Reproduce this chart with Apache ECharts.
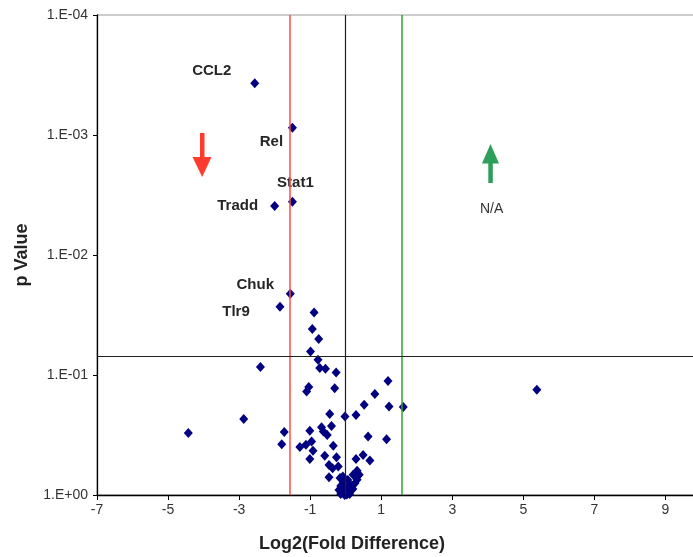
<!DOCTYPE html>
<html>
<head>
<meta charset="utf-8">
<title>Volcano plot</title>
<script src="https://cdn.jsdelivr.net/npm/echarts@6/dist/echarts.min.js"></script>
<style>
  html, body { margin: 0; padding: 0; background: #fff; }
  #chart { width: 693px; height: 557px; }
</style>
</head>
<body>
<div id="chart"></div>
<script>
// Named genes (log2 fold difference, p value)
const labeledGenes = ['CCL2', 'Rel', 'Stat1', 'Tradd', 'Chuk', 'Tlr9'];
const labeledLog2FC = [-2.56, -1.50, -1.50, -2.00, -1.56, -1.85];
const labeledPValue = [3.7e-4, 8.7e-4, 3.6e-3, 3.9e-3, 0.021, 0.027];

// Remaining genes
const otherLog2FC = [
  -0.89, -0.94, -0.76, -0.99, -0.78, -0.73, -0.57, -0.27, -1.04, -1.10,
  -0.31, 1.19, 0.82, 0.52, 1.22, 1.62, -0.45, -0.02, 0.29, -2.40,
  -2.87, -4.43, -1.73, -1.80, -1.01, -0.68, -0.63, -0.52, -0.40, 0.63,
  1.15, -1.29, -1.12, -0.96, -0.92, -0.35, -1.01, -0.59, -0.26, 0.29,
  0.49, 0.68, -0.47, -0.37, -0.21, -0.47, 0.32, 0.38, 0.21, 0.32,
  5.38,
  -0.16, -0.06, 0.06, -0.14, 0.00, 0.14, -0.19, -0.08, 0.09, 0.20,
  -0.03, -0.14, 0.11, 0.03, 0.26, -0.08
];
const otherPValue = [
  0.0301, 0.0414, 0.0502, 0.0637, 0.0746, 0.0875, 0.0887, 0.0953, 0.126, 0.137,
  0.129, 0.112, 0.144, 0.177, 0.183, 0.185, 0.211, 0.222, 0.215, 0.0859,
  0.233, 0.305, 0.299, 0.377, 0.292, 0.272, 0.296, 0.316, 0.266, 0.326,
  0.343, 0.399, 0.382, 0.359, 0.427, 0.389, 0.502, 0.472, 0.484, 0.502,
  0.464, 0.516, 0.561, 0.598, 0.579, 0.711, 0.627, 0.679, 0.679, 0.748,
  0.133,
  0.72, 0.78, 0.75, 0.84, 0.87, 0.83, 0.91, 0.94, 0.93, 0.89,
  1.0, 0.98, 0.98, 0.99, 0.80, 0.70
];

// Thresholds
const foldThresholdDown = -1.585;
const foldThresholdUp = 1.585;
const foldZero = 0;
const pThreshold = 0.07;

// Axis tick labels (log axis, one per decade)
const yTickLabels = ['1.E-04', '1.E-03', '1.E-02', '1.E-01', '1.E+00'];
const yTickValues = [1e-4, 1e-3, 1e-2, 1e-1, 1];

// Label placement for the named genes, relative to each point
const labelOffsets = {
  CCL2: [-43, -12],
  Rel: [-21, 14],
  Stat1: [3, -19],
  Tradd: [-37, 0],
  Chuk: [-35, -9],
  Tlr9: [-44, 5]
};

const FONT = '"Liberation Sans", Arial, sans-serif';
const pointColor = '#000080';

const labeledData = labeledGenes.map((name, i) => ({
  name: name,
  value: [labeledLog2FC[i], labeledPValue[i]],
  label: {
    show: true,
    formatter: name,
    position: 'inside',
    offset: labelOffsets[name],
    color: '#262626',
    fontFamily: FONT,
    fontWeight: 'bold',
    fontSize: 15
  }
}));
const otherData = otherLog2FC.map((x, i) => [x, otherPValue[i]]);

const chart = echarts.init(document.getElementById('chart'), null, { renderer: 'canvas' });

chart.setOption({
  animation: false,
  backgroundColor: '#fff',
  grid: {
    left: 97, top: 15, width: 604, height: 480,
    outerBoundsMode: 'none',
    containLabel: false,
    show: true, borderColor: '#9a9a9a', borderWidth: 1, backgroundColor: 'transparent'
  },
  xAxis: {
    type: 'value',
    min: -7, max: 10, interval: 2,
    axisLine: { show: true, onZero: false, lineStyle: { color: '#000', width: 1.3 } },
    axisTick: { show: true, length: 5, lineStyle: { color: '#000' } },
    axisLabel: {
      showMaxLabel: false,
      margin: 8,
      color: '#333', fontFamily: FONT, fontSize: 14
    },
    splitLine: { show: false }
  },
  yAxis: {
    type: 'log',
    logBase: 10,
    inverse: true,
    min: 1e-4, max: 1,
    axisLine: { show: true, onZero: false, lineStyle: { color: '#000', width: 1.3 } },
    axisTick: { show: true, length: 4, lineStyle: { color: '#000' } },
    axisLabel: {
      margin: 9,
      color: '#333', fontFamily: FONT, fontSize: 14,
      formatter: function (v) {
        let best = 0;
        for (let i = 0; i < yTickValues.length; i++) {
          if (Math.abs(Math.log10(v) - Math.log10(yTickValues[i])) <
              Math.abs(Math.log10(v) - Math.log10(yTickValues[best]))) best = i;
        }
        return yTickLabels[best];
      }
    },
    splitLine: { show: false }
  },
  series: [
    {
      type: 'scatter',
      name: 'genes',
      symbol: 'diamond',
      symbolSize: [9, 10],
      itemStyle: { color: pointColor, opacity: 1 },
      data: otherData,
      z: 3,
      markLine: {
        silent: true,
        symbol: 'none',
        label: { show: false },
        data: [
          { xAxis: foldThresholdDown, lineStyle: { color: '#ff4a4a', width: 1.5, type: 'solid', opacity: 1 } },
          { xAxis: foldZero, lineStyle: { color: '#222', width: 1.2, type: 'solid', opacity: 1 } },
          { xAxis: foldThresholdUp, lineStyle: { color: '#32a032', width: 1.5, type: 'solid', opacity: 1 } },
          { yAxis: pThreshold, lineStyle: { color: '#222', width: 1.2, type: 'solid', opacity: 1 } }
        ]
      }
    },
    {
      type: 'scatter',
      name: 'named genes',
      symbol: 'diamond',
      symbolSize: [9, 10],
      itemStyle: { color: pointColor, opacity: 1 },
      data: labeledData,
      z: 4
    }
  ],
  graphic: [
    // down arrow (red)
    { type: 'rect', shape: { x: 200, y: 133, width: 4.5, height: 27 }, style: { fill: '#ff3b2f' } },
    { type: 'polygon', shape: { points: [[192.5, 157], [211.5, 157], [202.2, 177]] }, style: { fill: '#ff3b2f' } },
    // up arrow (green)
    { type: 'rect', shape: { x: 488.3, y: 160, width: 4.5, height: 23 }, style: { fill: '#2e9e5b' } },
    { type: 'polygon', shape: { points: [[482, 163.5], [499, 163.5], [490.5, 144]] }, style: { fill: '#2e9e5b' } },
    {
      type: 'text', left: 480, top: 202,
      style: { text: 'N/A', fill: '#333', font: '14px ' + FONT }
    },
    {
      type: 'text', x: 352, y: 544,
      style: {
        text: 'Log2(Fold Difference)', fill: '#222',
        font: 'bold 18px ' + FONT, align: 'center', verticalAlign: 'middle'
      }
    },
    {
      type: 'text', x: 22, y: 255, rotation: Math.PI / 2,
      style: {
        text: 'p Value', fill: '#222',
        font: 'bold 18px ' + FONT, align: 'center', verticalAlign: 'middle'
      }
    }
  ]
});
</script>
</body>
</html>
